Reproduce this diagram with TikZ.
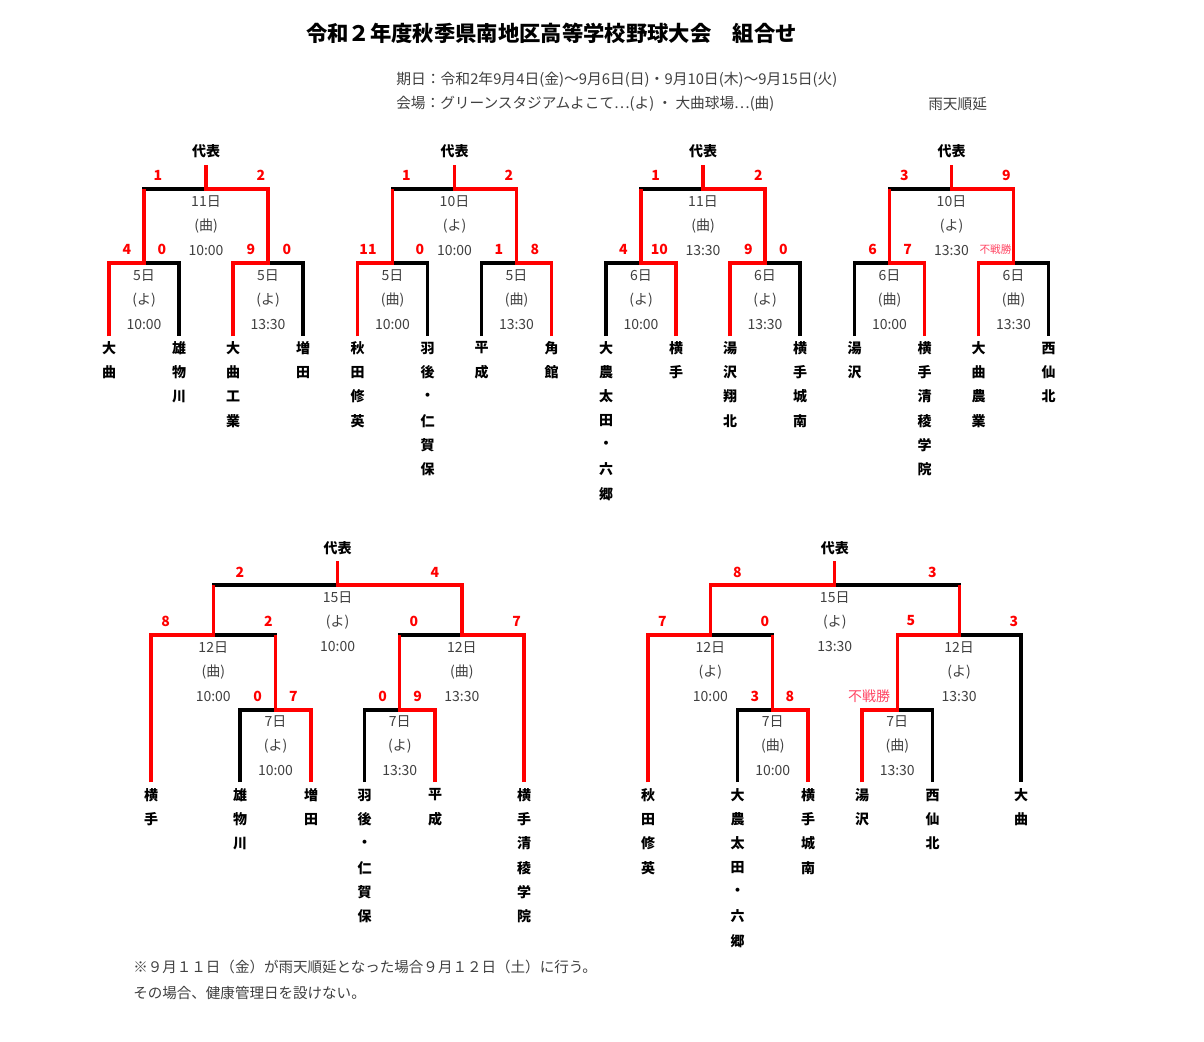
\documentclass[tikz,border=0pt]{standalone}
\usepackage{fontspec}
\setmainfont{Noto Sans CJK JP}
\definecolor{txtgray}{RGB}{64,64,64}
\definecolor{fsred}{RGB}{255,70,100}
\tikzset{
  win/.style={red,line width=2.4pt},
  lose/.style={black,line width=2.4pt},
  tm/.style={font=\bfseries\fontsize{10.5}{12}\selectfont,inner sep=0pt},
  lbl/.style={text=txtgray,font=\fontsize{10.5}{12}\selectfont,inner sep=0pt},
  sc/.style={text=red,font=\bfseries\fontsize{10.5}{12}\selectfont,inner sep=0pt},
  hd/.style={font=\bfseries\fontsize{10.5}{12}\selectfont,inner sep=0pt},
  fs/.style={text=fsred,inner sep=0pt},
}
% team name, one character per line
\newcommand\teamv[4]{\foreach \c [count=\i] in {#4} \node[tm] (#1-\i) at (#2,{#3+(\i-1)*24.3}) {\c};}
% date / ground / time under a bar
\newcommand\slot[6]{%
  \node[lbl] (#1-d) at (#2,#3) {#4};
  \node[lbl] (#1-v) at (#2,{#3+24.5}) {#5};
  \node[lbl] (#1-t) at (#2,{#3+49}) {#6};}
\begin{document}
\begin{tikzpicture}[x=0.75pt,y=-0.75pt]
\useasboundingbox (0,0) rectangle (1204,1042);
\fill[white] (0,0) rectangle (1204,1042);
\node[font=\bfseries\fontsize{16}{18}\selectfont,inner sep=0pt] (ttl) at (551.5,33) {令和２年度秋季県南地区高等学校野球大会　組合せ};
\node[lbl,font=\fontsize{11.1}{13}\selectfont,anchor=west] (kijitsu) at (396,80) {期日：令和2年9月4日(金)～9月6日(日)・9月10日(木)～9月15日(火)};
\node[lbl,font=\fontsize{11}{13}\selectfont,anchor=west] (kaijo) at (396,104) {会場：グリーンスタジアムよこて⋯(よ) ・ 大曲球場⋯(曲)};
\node[lbl,font=\fontsize{11}{13}\selectfont,anchor=west] (uten) at (928,104) {雨天順延};

%A
\begin{scope}[shift={(109,0)}]
\draw[lose] (0,336) |- (70,263) -- (70,336);
\draw[lose] (124,336) |- (194,263) -- (194,336);
\draw[lose] (35,263) |- (159,189) -- (159,263);
\draw[lose] (97,189) -- (97,165);
\draw[win] (0,336) |- (35,263) -- (35,189);
\draw[win] (124,336) |- (159,263) |- (97,189) -- (97,165);
\node[hd] (a0) at (97,151.5) {代表};
\slot{a1}{97}{201.5}{11日}{(曲)}{10:00}
\slot{a2}{35}{275.5}{5日}{(よ)}{10:00}
\slot{a3}{159}{275.5}{5日}{(よ)}{13:30}
\node[sc] (a4) at (49,175) {1};  \node[sc] (a5) at (152,175) {2};
\node[sc] (a6) at (18,249.5) {4}; \node[sc] (a7) at (53,249.5) {0};
\node[sc] (a8) at (142,249.5) {9}; \node[sc] (a9) at (178,249.5) {0};
\teamv{ta1}{0}{348}{大,曲}
\teamv{ta2}{70}{348}{雄,物,川}
\teamv{ta3}{124}{348}{大,曲,工,業}
\teamv{ta4}{194}{348}{増,田}
\end{scope}

%B
\begin{scope}[shift={(357.5,0)}]
\draw[lose] (0,336) |- (70,263) -- (70,336);
\draw[lose] (124,336) |- (194,263) -- (194,336);
\draw[lose] (35,263) |- (159,189) -- (159,263);
\draw[lose] (97,189) -- (97,165);
\draw[win] (0,336) |- (35,263) -- (35,189);
\draw[win] (194,336) |- (159,263) |- (97,189) -- (97,165);
\node[hd] (b0) at (97,151.5) {代表};
\slot{b1}{97}{201.5}{10日}{(よ)}{10:00}
\slot{b2}{35}{275.5}{5日}{(曲)}{10:00}
\slot{b3}{159}{275.5}{5日}{(曲)}{13:30}
\node[sc] (b4) at (49,175) {1};  \node[sc] (b5) at (151.5,175) {2};
\node[sc] (b6) at (10.5,249.5) {11}; \node[sc] (b7) at (62.5,249.5) {0};
\node[sc] (b8) at (141.5,249.5) {1}; \node[sc] (b9) at (177.5,249.5) {8};
\teamv{tb1}{0}{348}{秋,田,修,英}
\teamv{tb2}{70}{348}{羽,後,・,仁,賀,保}
\teamv{tb3}{124}{348}{平,成}
\teamv{tb4}{194}{348}{角,館}
\end{scope}

%C
\begin{scope}[shift={(606,0)}]
\draw[lose] (0,336) |- (70,263) -- (70,336);
\draw[lose] (124,336) |- (194,263) -- (194,336);
\draw[lose] (35,263) |- (159,189) -- (159,263);
\draw[lose] (97,189) -- (97,165);
\draw[win] (70,336) |- (35,263) -- (35,189);
\draw[win] (124,336) |- (159,263) |- (97,189) -- (97,165);
\node[hd] (c0) at (97,151.5) {代表};
\slot{c1}{97}{201.5}{11日}{(曲)}{13:30}
\slot{c2}{35}{275.5}{6日}{(よ)}{10:00}
\slot{c3}{159}{275.5}{6日}{(よ)}{13:30}
\node[sc] (c4) at (49.7,175) {1};  \node[sc] (c5) at (152.3,175) {2};
\node[sc] (c6) at (17.3,249.5) {4}; \node[sc] (c7) at (53.3,249.5) {10};
\node[sc] (c8) at (142.3,249.5) {9}; \node[sc] (c9) at (177.3,249.5) {0};
\teamv{tc1}{0}{348}{大,農,太,田,・,六,郷}
\teamv{tc2}{70}{348}{横,手}
\teamv{tc3}{124}{348}{湯,沢,翔,北}
\teamv{tc4}{194}{348}{横,手,城,南}
\end{scope}

%D
\begin{scope}[shift={(854.5,0)}]
\draw[lose] (0,336) |- (70,263) -- (70,336);
\draw[lose] (124,336) |- (194,263) -- (194,336);
\draw[lose] (35,263) |- (159,189) -- (159,263);
\draw[lose] (97,189) -- (97,165);
\draw[win] (70,336) |- (35,263) -- (35,189);
\draw[win] (124,336) |- (159,263) |- (97,189) -- (97,165);
\node[hd] (d0) at (97,151.5) {代表};
\slot{d1}{97}{201.5}{10日}{(よ)}{13:30}
\slot{d2}{35}{275.5}{6日}{(曲)}{10:00}
\slot{d3}{159}{275.5}{6日}{(曲)}{13:30}
\node[sc] (d4) at (50,175) {3};  \node[sc] (d5) at (152,175) {9};
\node[sc] (d6) at (18.2,249.5) {6}; \node[sc] (d7) at (53.2,249.5) {7};
\node[fs,font=\fontsize{8}{9}\selectfont] (d8) at (141,249.5) {不戦勝};
\teamv{td1}{0}{348}{湯,沢}
\teamv{td2}{70}{348}{横,手,清,稜,学,院}
\teamv{td3}{124}{348}{大,曲,農,業}
\teamv{td4}{194}{348}{西,仙,北}
\end{scope}

%E
\draw[lose] (240,782) |- (311,710) -- (311,782);
\draw[lose] (364.5,782) |- (435,710) -- (435,782);
\draw[lose] (151,782) |- (275.5,635) -- (275.5,710);
\draw[lose] (399.75,710) |- (524,635) -- (524,782);
\draw[lose] (213.25,635) |- (461.9,585) -- (461.9,635);
\draw[lose] (337.6,585) -- (337.6,561);
\draw[win] (151,782) |- (213.25,635) -- (213.25,585);
\draw[win] (311,782) |- (275.5,710) -- (275.5,635);
\draw[win] (435,782) |- (399.75,710) -- (399.75,635);
\draw[win] (524,782) |- (461.9,635) |- (337.6,585) -- (337.6,561);
\node[hd] (e0) at (337.6,548.5) {代表};
\slot{e1}{337.6}{597.5}{15日}{(よ)}{10:00}
\slot{e2}{213.25}{647.5}{12日}{(曲)}{10:00}
\slot{e3}{461.9}{647.5}{12日}{(曲)}{13:30}
\slot{e4}{275.5}{721.5}{7日}{(よ)}{10:00}
\slot{e5}{399.75}{721.5}{7日}{(よ)}{13:30}
\node[sc] (e6) at (240,572.5) {2}; \node[sc] (e7) at (435,572.5) {4};
\node[sc] (e8) at (165.7,621) {8}; \node[sc] (e9) at (268.3,621) {2};
\node[sc] (e10) at (414,621) {0}; \node[sc] (e11) at (516.7,621) {7};
\node[sc] (e12) at (257.7,696) {0}; \node[sc] (e13) at (293.3,696) {7};
\node[sc] (e14) at (382.7,696) {0}; \node[sc] (e15) at (417.7,696) {9};
\teamv{te1}{151}{795}{横,手}
\teamv{te2}{240}{795}{雄,物,川}
\teamv{te3}{311}{795}{増,田}
\teamv{te4}{364.5}{795}{羽,後,・,仁,賀,保}
\teamv{te5}{435}{795}{平,成}
\teamv{te6}{524}{795}{横,手,清,稜,学,院}

%F
\draw[lose] (737.5,782) |- (808,710) -- (808,782);
\draw[lose] (862,782) |- (932.5,710) -- (932.5,782);
\draw[lose] (648,782) |- (772.75,635) -- (772.75,710);
\draw[lose] (897.25,710) |- (1021,635) -- (1021,782);
\draw[lose] (710.4,635) |- (959.1,585) -- (959.1,635);
\draw[lose] (834.75,585) -- (834.75,561);
\draw[win] (648,782) |- (710.4,635) |- (834.75,585) -- (834.75,561);
\draw[win] (808,782) |- (772.75,710) -- (772.75,635);
\draw[win] (862,782) |- (897.25,710) |- (959.1,635) -- (959.1,585);
\node[hd] (f0) at (834.75,548.5) {代表};
\slot{f1}{834.75}{597.5}{15日}{(よ)}{13:30}
\slot{f2}{710.4}{647.5}{12日}{(よ)}{10:00}
\slot{f3}{959.1}{647.5}{12日}{(よ)}{13:30}
\slot{f4}{772.75}{721.5}{7日}{(曲)}{10:00}
\slot{f5}{897.25}{721.5}{7日}{(曲)}{13:30}
\node[sc] (f6) at (737.3,572.5) {8}; \node[sc] (f7) at (932.3,572.5) {3};
\node[sc] (f8) at (662.3,621) {7}; \node[sc] (f9) at (765,621) {0};
\node[sc] (f10) at (911,621) {5}; \node[sc] (f11) at (1014,621) {3};
\node[sc] (f12) at (755,696) {3}; \node[sc] (f13) at (790,696) {8};
\node[fs,font=\fontsize{10.5}{12}\selectfont] (f14) at (869,696) {不戦勝};
\teamv{tf1}{648}{795}{秋,田,修,英}
\teamv{tf2}{737.5}{795}{大,農,太,田,・,六,郷}
\teamv{tf3}{808}{795}{横,手,城,南}
\teamv{tf4}{862}{795}{湯,沢}
\teamv{tf5}{932.5}{795}{西,仙,北}
\teamv{tf6}{1021}{795}{大,曲}

\node[lbl,font=\fontsize{10.9}{13}\selectfont,anchor=west] (note1) at (133,967) {※９月１１日（金）が雨天順延となった場合９月１２日（土）に行う。};
\node[lbl,font=\fontsize{10.9}{13}\selectfont,anchor=west] (note2) at (133,993) {その場合、健康管理日を設けない。};
\end{tikzpicture}
\end{document}
